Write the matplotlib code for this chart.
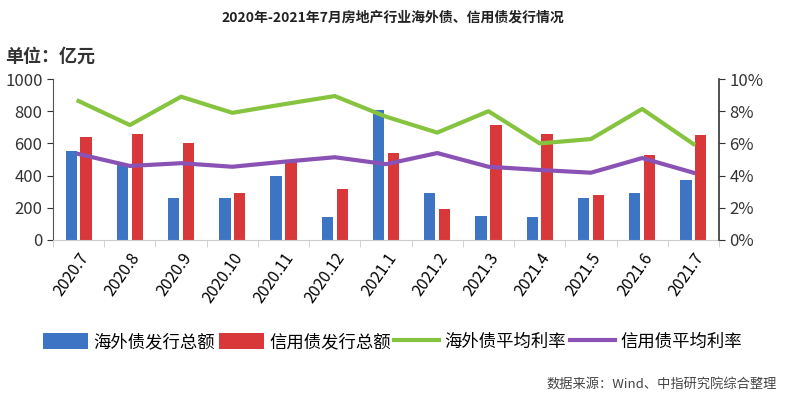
import numpy as np
import matplotlib.pyplot as plt

plt.rcParams['font.family'] = ['Noto Sans CJK SC', 'DejaVu Sans']

months = ['2020.7', '2020.8', '2020.9', '2020.10', '2020.11', '2020.12', '2021.1',
          '2021.2', '2021.3', '2021.4', '2021.5', '2021.6', '2021.7']
overseas_amt = [550, 470, 260, 260, 400, 140, 810, 290, 150, 140, 260, 290, 370]
credit_amt = [640, 660, 605, 290, 490, 315, 540, 195, 715, 660, 280, 530, 650]
overseas_rate = [8.63, 7.14, 8.9, 7.9, 8.43, 8.94, 7.66, 6.67, 8.0, 6.0, 6.27, 8.14, 5.96]
credit_rate = [5.34, 4.6, 4.77, 4.55, 4.86, 5.14, 4.71, 5.4, 4.55, 4.35, 4.18, 5.09, 4.18]

blue = '#3d74c4'
red = '#d8383a'
green = '#86c440'
purple = '#8a52b4'

fig = plt.figure(figsize=(7.85, 4.03), dpi=100)
ax = fig.add_axes([53 / 785, 1 - 240 / 403, 666 / 785, 161 / 403])
ax2 = ax.twinx()

x = np.arange(len(months))
w = 0.22
b1 = ax.bar(x - 0.145, overseas_amt, w, color=blue, label='海外债发行总额', zorder=2)
b2 = ax.bar(x + 0.145, credit_amt, w, color=red, label='信用债发行总额', zorder=2)
l1, = ax2.plot(x, overseas_rate, color=green, lw=3, label='海外债平均利率')
l2, = ax2.plot(x, credit_rate, color=purple, lw=3, label='信用债平均利率')

ax.set_xlim(-0.5, len(months) - 0.5)
ax.set_ylim(0, 1000)
ax2.set_ylim(0, 10)
ax.set_yticks(range(0, 1001, 200))
ax2.set_yticks(range(0, 11, 2))
ax2.set_yticklabels([f'{v}%' for v in range(0, 11, 2)])

ax.set_xticks(x)
ax.set_xticklabels(months, rotation=55, ha='right', rotation_mode='anchor', fontsize=11.5)
ax.tick_params(axis='x', length=0, pad=7)
ax.set_xticks(np.arange(-0.5, len(months)), minor=True)
ax.tick_params(axis='x', which='minor', length=5, color='#cccccc')

ax.tick_params(axis='y', labelsize=12, length=4, colors='#333333')
ax2.tick_params(axis='y', labelsize=12, length=4, colors='#333333')

for a in (ax, ax2):
    a.spines['top'].set_visible(False)
ax.spines['bottom'].set_color('#cccccc')
ax.spines['left'].set_color('#555555')
ax.spines['right'].set_visible(False)
ax2.spines['left'].set_visible(False)
ax2.spines['bottom'].set_visible(False)
ax2.spines['right'].set_color('#333333')
ax2.spines['right'].set_linewidth(1.2)

fig.text(0.5, 1 - 18 / 403, '2020年-2021年7月房地产行业海外债、信用债发行情况',
         ha='center', va='center', fontsize=10, fontweight='bold', color='#222222')
fig.text(5 / 785, 1 - 56 / 403, '单位：亿元', ha='left', va='center', fontsize=13,
         fontweight='bold', color='#333333')

fig.legend(handles=[b1, b2, l1, l2], loc='center', bbox_to_anchor=(0.5, 1 - 342 / 403),
           ncol=4, frameon=False, fontsize=12.5, handlelength=2.6, handleheight=1.0,
           columnspacing=0.2, handletextpad=0.3)

fig.text(777 / 785, 1 - 385 / 403, '数据来源：Wind、中指研究院综合整理',
         ha='right', va='center', fontsize=9.5, color='#444444')

fig.savefig('out.png', dpi=100)
